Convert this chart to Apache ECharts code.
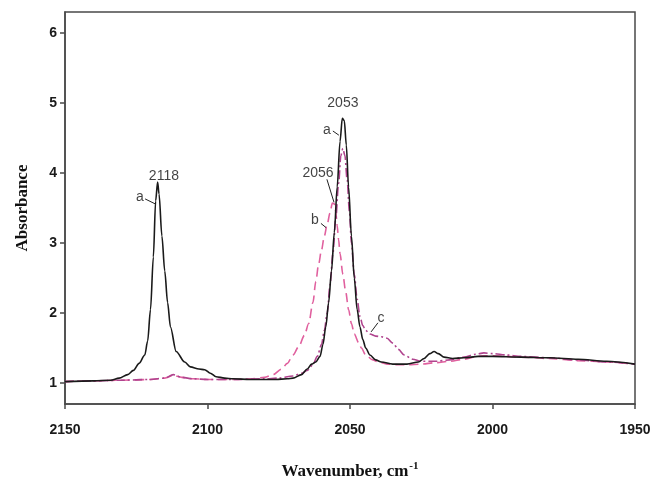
<!DOCTYPE html>
<html>
<head>
<meta charset="utf-8">
<script src="https://cdn.jsdelivr.net/npm/echarts@6/dist/echarts.min.js"></script>
<style>html,body{margin:0;padding:0;background:#fff}#c{width:654px;height:485px}</style>
</head>
<body>
<div id="c"></div>
<script>
// Wavenumber ticks
var xTicks = [2150, 2100, 2050, 2000, 1950];
var yTicks = [1, 2, 3, 4, 5, 6];

// Curve a (black solid)
var aX = [2150,2140,2134,2131,2128,2126,2124,2122,2121,2120,2119,2118.2,2117.5,2117,2116,2115,2114,2113,2111,2108,2106,2103,2101,2099,2097,2094,2091,2085,2080,2076,2072,2070,2067,2065,2063.5,2062,2060.5,2059.5,2058.5,2057.5,2056.5,2055.5,2054.5,2053.5,2052.7,2052,2051.3,2050.5,2049.5,2048.5,2047.5,2046.5,2045.5,2044.5,2043,2041,2039,2035,2030,2026,2024,2022,2020.5,2019,2017,2014,2010,2005,2000,1990,1980,1970,1960,1950];
var aY = [1.02,1.03,1.04,1.07,1.12,1.18,1.28,1.4,1.6,2.05,2.8,3.6,3.87,3.7,3.1,2.6,2.15,1.8,1.45,1.3,1.23,1.2,1.19,1.14,1.09,1.07,1.06,1.05,1.05,1.05,1.06,1.07,1.12,1.2,1.27,1.3,1.38,1.55,1.8,2.15,2.6,3.15,3.8,4.45,4.78,4.75,4.4,3.8,3.1,2.5,2.05,1.8,1.62,1.5,1.4,1.33,1.3,1.27,1.27,1.3,1.35,1.42,1.45,1.42,1.37,1.35,1.36,1.38,1.38,1.37,1.36,1.34,1.31,1.27];

// Curve b (dashed pink)
var bX = [2150,2140,2130,2120,2115,2112,2109,2105,2100,2090,2085,2080,2077,2074,2072,2070,2068,2066,2064.5,2063,2062,2061,2060,2059,2058,2057,2056.2,2055.5,2055,2054.5,2054,2053.5,2052.5,2051.5,2050.5,2049.5,2048.5,2047,2046,2044.5,2042,2040,2037,2033,2030,2025,2020,2015,2010,2005,2003,2000,1995,1990,1980,1970,1960,1950];
var bY = [1.02,1.03,1.04,1.05,1.07,1.11,1.08,1.06,1.05,1.05,1.06,1.08,1.12,1.2,1.28,1.4,1.52,1.68,1.85,2.15,2.45,2.7,2.9,3.1,3.27,3.43,3.57,3.56,3.45,3.25,3.05,2.85,2.55,2.3,2.05,1.85,1.7,1.58,1.5,1.4,1.33,1.3,1.27,1.26,1.26,1.27,1.29,1.31,1.34,1.38,1.39,1.39,1.38,1.37,1.35,1.32,1.3,1.27];

// Curve c (dash-dot magenta)
var cX = [2150,2140,2130,2120,2115,2112,2109,2105,2100,2090,2080,2075,2070,2067,2065,2063,2061.5,2060,2059,2058,2057,2056,2055,2054,2053.2,2052.5,2051.8,2051,2050.2,2049.5,2048.5,2047.5,2046.5,2045.5,2044.5,2043,2041,2039,2037,2035,2033,2031,2028,2025,2020,2015,2010,2006,2003,2000,1995,1990,1980,1970,1960,1950];
var cY = [1.02,1.03,1.04,1.05,1.07,1.12,1.08,1.06,1.05,1.05,1.06,1.07,1.1,1.14,1.18,1.26,1.38,1.55,1.75,2.0,2.4,2.85,3.35,3.85,4.25,4.35,4.25,3.9,3.45,3.0,2.55,2.2,1.95,1.82,1.75,1.7,1.67,1.66,1.64,1.57,1.48,1.4,1.34,1.31,1.31,1.33,1.37,1.41,1.43,1.42,1.4,1.38,1.36,1.33,1.3,1.27];

// Annotation texts and anchors (data coords)
var notes = [
  {text: '2118', at: [2115.3, 3.96]},
  {text: 'a', at: [2123.7, 3.65], from: [2121.9, 3.63], to: [2118.4, 3.56]},
  {text: '2053', at: [2052.5, 5.0]},
  {text: 'a', at: [2058.1, 4.61], from: [2056.0, 4.6], to: [2053.9, 4.54]},
  {text: '2056', at: [2061.2, 4.0], from: [2058.1, 3.91], to: [2055.6, 3.58]},
  {text: 'b', at: [2062.3, 3.33], from: [2060.2, 3.28], to: [2058.4, 3.22]},
  {text: 'c', at: [2039.1, 1.93], from: [2040.2, 1.86], to: [2042.6, 1.73]}
];

function zip(xs, ys){ return xs.map(function(x,i){ return [x, ys[i]]; }); }

var chart = echarts.init(document.getElementById('c'), null, {renderer: 'canvas'});
var axisColor = '#4a4a4a';
var option = {
  animation: false,
  backgroundColor: '#ffffff',
  grid: {left: 65, right: 19, top: 12, bottom: 74, show: true, borderColor: axisColor, borderWidth: 1.5, backgroundColor: 'transparent'},
  xAxis: {
    type: 'value', min: 1950, max: 2150, interval: 50, inverse: true,
    axisLine: {show: true, onZero: false, lineStyle: {color: axisColor, width: 1.5}},
    axisTick: {show: true, inside: false, length: 5, lineStyle: {color: axisColor, width: 1.5}},
    splitLine: {show: false},
    axisLabel: {color: '#1a1a1a', fontFamily: 'Liberation Sans, Arial', fontWeight: 'bold', fontSize: 14, margin: 19,
      customValues: xTicks, formatter: function(v){ return String(v); }},
    name: 'Wavenumber, cm{sup|-1}',
    nameLocation: 'middle', nameGap: 57,
    nameTextStyle: {fontFamily: 'Liberation Serif, Times New Roman', fontWeight: 'bold', fontSize: 17, color: '#111',
      rich: {sup: {fontFamily: 'Liberation Serif', fontWeight: 'bold', fontSize: 11, verticalAlign: 'top', padding: [0,0,10,1], color: '#111'}}}
  },
  yAxis: {
    type: 'value', min: 0.7, max: 6.3,
    axisLine: {show: true, onZero: false, lineStyle: {color: axisColor, width: 1.5}},
    axisTick: {show: true, inside: false, length: 5, customValues: yTicks, lineStyle: {color: axisColor, width: 1.5}},
    splitLine: {show: false},
    axisLabel: {color: '#1a1a1a', fontFamily: 'Liberation Sans, Arial', fontWeight: 'bold', fontSize: 14, margin: 8,
      customValues: yTicks, formatter: function(v){ return String(v); }},
    name: 'Absorbance',
    nameLocation: 'middle', nameGap: 34,
    nameTextStyle: {fontFamily: 'Liberation Serif, Times New Roman', fontWeight: 'bold', fontSize: 17, color: '#111'}
  },
  series: [
    {name: 'b', type: 'line', data: zip(bX, bY), showSymbol: false, smooth: 0.3, smoothMonotone: 'x',
      lineStyle: {color: '#e0609e', width: 1.6, type: [9, 5]}},
    {name: 'c', type: 'line', data: zip(cX, cY), showSymbol: false, smooth: 0.3, smoothMonotone: 'x',
      lineStyle: {color: '#b0448e', width: 1.6, type: [9, 3, 2, 3]}},
    {name: 'a', type: 'line', data: zip(aX, aY), showSymbol: false, smooth: 0.3, smoothMonotone: 'x',
      lineStyle: {color: '#1a1a1a', width: 1.6}},
    {name: 'notes', type: 'scatter', silent: true, symbolSize: 0,
      data: notes.map(function(n){ return {value: n.at, label: {show: true, formatter: n.text}}; }),
      label: {position: 'inside', color: '#111', fontFamily: 'Liberation Sans, Arial', fontSize: 14},
      markLine: {silent: true, symbol: 'none', animation: false,
        lineStyle: {color: '#222', width: 1, type: 'solid'}, label: {show: false},
        data: notes.filter(function(n){ return n.from; }).map(function(n){ return [{coord: n.from}, {coord: n.to}]; })}
    }
  ]
};
chart.setOption(option);
</script>
</body>
</html>
